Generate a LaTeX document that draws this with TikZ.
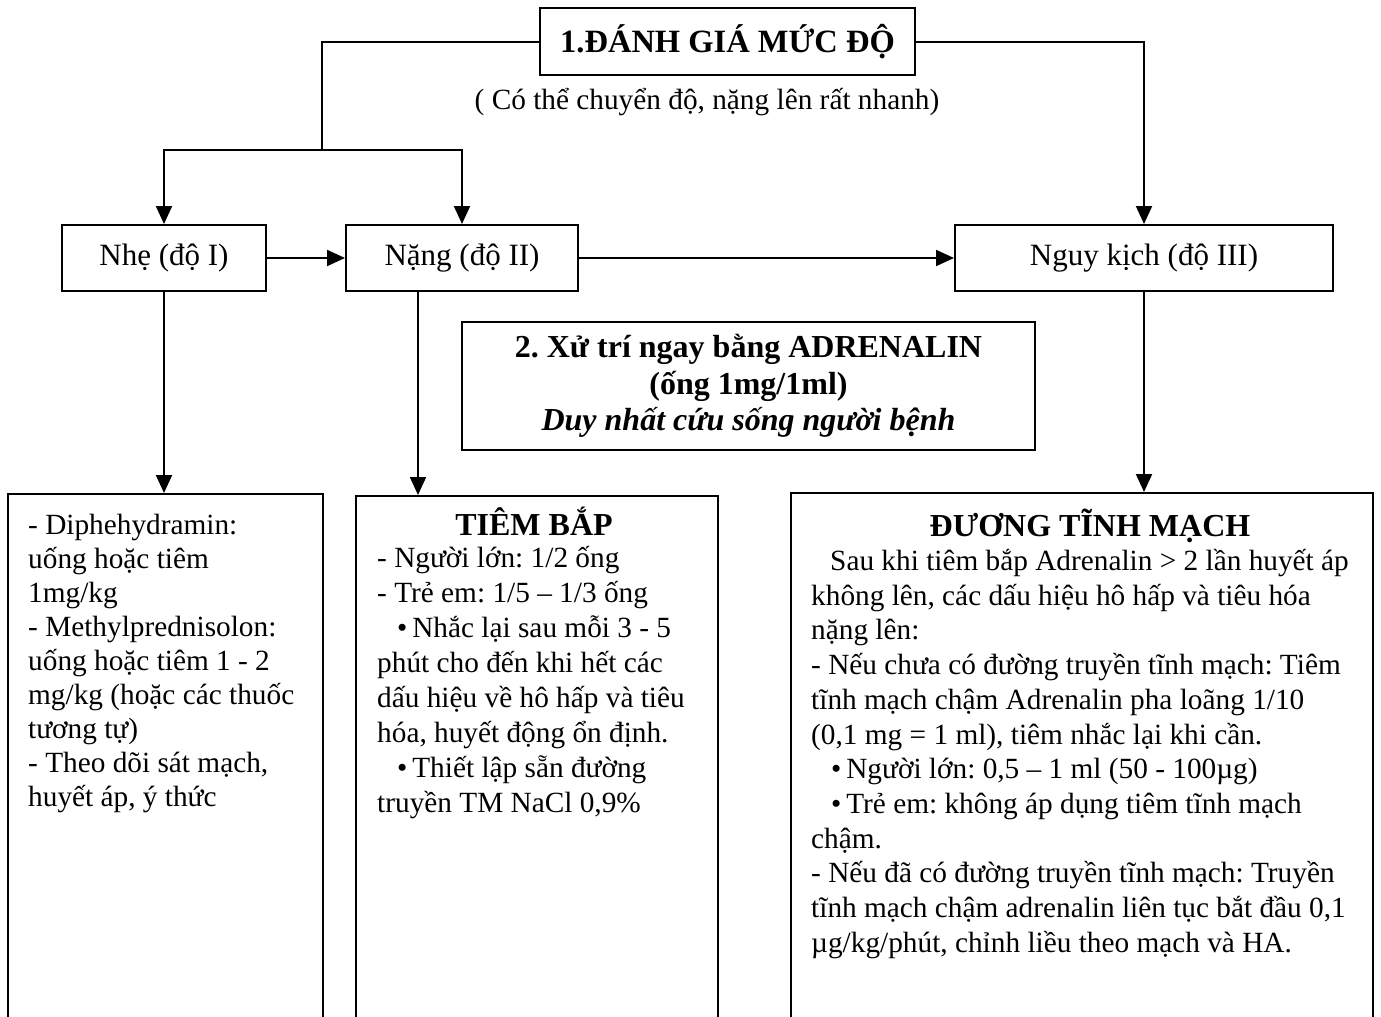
\documentclass[tikz,border=0pt]{standalone}
\usepackage{fontspec}
\setmainfont{Liberation Serif}
\usetikzlibrary{arrows.meta,calc}
\begin{document}
\frenchspacing
\begin{tikzpicture}[x=1pt,y=-1pt,
  box/.style={draw,line width=2pt,inner sep=0pt},
  link/.style={line width=2pt},
  arr/.style={line width=2pt,-{Triangle[length=18pt,width=16pt]}},
  level/.style={box,minimum height=66pt,font=\fontsize{31}{36}\selectfont},
  bodytext/.style={inner sep=0pt,anchor=north west,align=left},
  heading/.style={inner sep=0pt,anchor=base,font=\bfseries\fontsize{32}{36}\selectfont},
  column/.style={box,anchor=north west,minimum height=600pt}
]
\useasboundingbox (0,0) rectangle (1381,1017);
\clip (0,0) rectangle (1381,1017);

% step 1: assessment
\node[box,minimum width=375pt,minimum height=67pt,font=\bfseries\fontsize{32.5}{37}\selectfont]
  (assess) at (727.5,41.5) {1.ĐÁNH GIÁ MỨC ĐỘ};
\node[inner sep=0pt,font=\fontsize{29.3}{35}\selectfont] (note) at (707,102)
  {( Có thể chuyển độ, nặng lên rất nhanh)};

% severity levels
\node[level,minimum width=204pt] (mild) at (164,258) {Nhẹ (độ I)};
\node[level,minimum width=232pt] (severe) at (462,258) {Nặng (độ II)};
\node[level,minimum width=378pt] (critical) at (1144,258) {Nguy kịch (độ III)};

% step 2: adrenaline
\node[box,minimum width=573pt,minimum height=128pt,align=center,
      font=\bfseries\fontsize{32}{36.5}\selectfont] (adr) at (748.5,386)
  {2. Xử trí ngay bằng ADRENALIN\\(ống 1mg/1ml)\\\textit{Duy nhất cứu sống người bệnh}};

% treatment columns
\node[column,minimum width=315pt] (mildbox) at (7,493) {};
\node[column,minimum width=362pt] (sevbox) at (355,495) {};
\node[column,minimum width=582pt] (critbox) at (790,492) {};

% connectors
\coordinate (split) at (322,150);
\draw[link] (assess.west) -| (split);
\draw[arr] (split) -| (mild.north);
\draw[arr] (split) -| (severe.north);
\draw[arr] (assess.east) -| (critical.north);
\draw[arr] (mild) -- (severe);
\draw[arr] (severe) -- (critical);
\draw[arr] (mild.south) -- (mild.south |- mildbox.north);
\draw[arr] ([xshift=-44pt]severe.south) -- ([xshift=-44pt]severe.south |- sevbox.north);
\draw[arr] (critical.south) -- (critical.south |- critbox.north);

% column texts
\node[bodytext,font=\fontsize{29.3}{34}\selectfont] (mildtxt) at (28,510) {\strut- Diphehydramin:\\
uống hoặc tiêm\\
1mg/kg\\
- Methylprednisolon:\\
uống hoặc tiêm 1 - 2\\
mg/kg (hoặc các thuốc\\
tương tự)\\
- Theo dõi sát mạch,\\
huyết áp, ý thức};

\node[heading] (sevhead) at (534,535) {TIÊM BẮP};
\node[bodytext,font=\fontsize{29.3}{35}\selectfont] (sevtxt) at (377,543) {\strut- Người lớn: 1/2 ống\\
- Trẻ em: 1/5 – 1/3 ống\\
\hspace*{20pt}•\,Nhắc lại sau mỗi 3 - 5\\
phút cho đến khi hết các\\
dấu hiệu về hô hấp và tiêu\\
hóa, huyết động ổn định.\\
\hspace*{20pt}•\,Thiết lập sẵn đường\\
truyền TM NaCl 0,9\%};

\node[heading] (crithead) at (1090,536) {ĐƯƠNG TĨNH MẠCH};
\node[bodytext,font=\fontsize{29.3}{34.7}\selectfont] (crittxt) at (811,546) {\strut\hspace*{19pt}Sau khi tiêm bắp Adrenalin > 2 lần huyết áp\\
không lên, các dấu hiệu hô hấp và tiêu hóa\\
nặng lên:\\
- Nếu chưa có đường truyền tĩnh mạch: Tiêm\\
tĩnh mạch chậm Adrenalin pha loãng 1/10\\
(0,1 mg = 1 ml), tiêm nhắc lại khi cần.\\
\hspace*{20pt}•\,Người lớn: 0,5 – 1 ml (50 - 100µg)\\
\hspace*{20pt}•\,Trẻ em: không áp dụng tiêm tĩnh mạch\\
chậm.\\
- Nếu đã có đường truyền tĩnh mạch: Truyền\\
tĩnh mạch chậm adrenalin liên tục bắt đầu 0,1\\
µg/kg/phút, chỉnh liều theo mạch và HA.};
\end{tikzpicture}
\end{document}
